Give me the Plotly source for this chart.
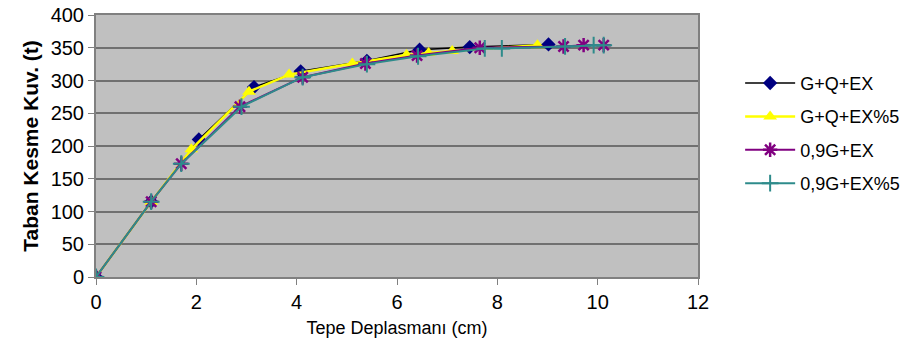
import plotly.graph_objects as go

# Series data
x_gqex = [0, 1.1, 2.05, 3.15, 4.08, 5.4, 6.45, 7.45, 9.02]
y_gqex = [0, 115, 210, 290, 314, 330, 347, 351, 355]

x_gqex5 = [0, 1.1, 1.9, 3.05, 3.85, 5.11, 6.19, 6.63, 7.1, 8.8]
y_gqex5 = [0, 115, 195, 283, 309, 326, 339, 342, 345, 354]

x_09gex = [0, 1.1, 1.7, 2.87, 4.12, 5.37, 6.4, 7.65, 9.32, 9.72, 10.12]
y_09gex = [0, 115, 173, 260, 305, 326, 338, 350, 352, 354, 354]

x_09gex5 = [0, 1.1, 1.7, 2.9, 4.12, 5.4, 6.42, 7.75, 8.09, 9.35, 9.92, 10.12]
y_09gex5 = [0, 115, 173, 260, 305, 325, 337, 349, 349, 352, 354, 354]

names = ["G+Q+EX", "G+Q+EX%5", "0,9G+EX", "0,9G+EX%5"]
x_ticks = [0, 2, 4, 6, 8, 10, 12]
y_ticks = [0, 50, 100, 150, 200, 250, 300, 350, 400]

fig = go.Figure()
fig.add_trace(go.Scatter(
    x=x_gqex, y=y_gqex, name=names[0], mode="lines+markers", legendgroup="a",
    line=dict(color="#000000", width=1.5),
    marker=dict(symbol="diamond", size=11, color="#000080")))
fig.add_trace(go.Scatter(
    x=x_gqex5, y=y_gqex5, name=names[1], mode="lines+markers", legendgroup="b",
    line=dict(color="#FFFF00", width=2.5),
    marker=dict(symbol="triangle-up", size=12, color="#FFFF00")))
fig.add_trace(go.Scatter(
    x=x_09gex, y=y_09gex, name=names[2], mode="lines+markers", legendgroup="c",
    line=dict(color="#800080", width=2),
    marker=dict(symbol="asterisk", size=12, line=dict(color="#800080", width=2.5))))
fig.add_trace(go.Scatter(
    x=x_09gex5, y=y_09gex5, name=names[3], mode="lines+markers", legendgroup="d",
    line=dict(color="#2E8B8B", width=2),
    marker=dict(symbol="cross-thin", size=12, line=dict(color="#2E8B8B", width=2))))

fig.update_layout(
    width=906, height=356,
    margin=dict(l=96, r=208, t=15, b=79, autoexpand=False),
    paper_bgcolor="white",
    plot_bgcolor="#C0C0C0",
    font=dict(family="Arial, Liberation Sans, sans-serif", color="#000000"),
    legend=dict(x=1.07, y=0.81, xanchor="left", yanchor="top",
                font=dict(size=18), bgcolor="rgba(0,0,0,0)",
                itemwidth=50, tracegroupgap=7, traceorder="grouped"),
    xaxis=dict(range=[0, 12], tickvals=x_ticks, ticktext=[str(v) for v in x_ticks],
               showgrid=False, zeroline=False, ticks="outside", ticklen=6,
               tickcolor="#808080", tickfont=dict(size=20),
               showline=True, linecolor="#808080", linewidth=2, mirror=True,
               title=dict(text="Tepe Deplasmanı (cm)", font=dict(size=18), standoff=9)),
    yaxis=dict(range=[0, 400], tickvals=y_ticks, ticktext=[str(v) for v in y_ticks],
               showgrid=True, gridcolor="#707070", gridwidth=1.5, zeroline=False,
               ticks="outside", ticklen=6, tickcolor="#808080", tickfont=dict(size=20),
               showline=True, linecolor="#808080", linewidth=2, mirror=True,
               title=dict(text="<b>Taban Kesme Kuv. (t)</b>", font=dict(size=21), standoff=6)),
)

fig.write_html("out.html")
